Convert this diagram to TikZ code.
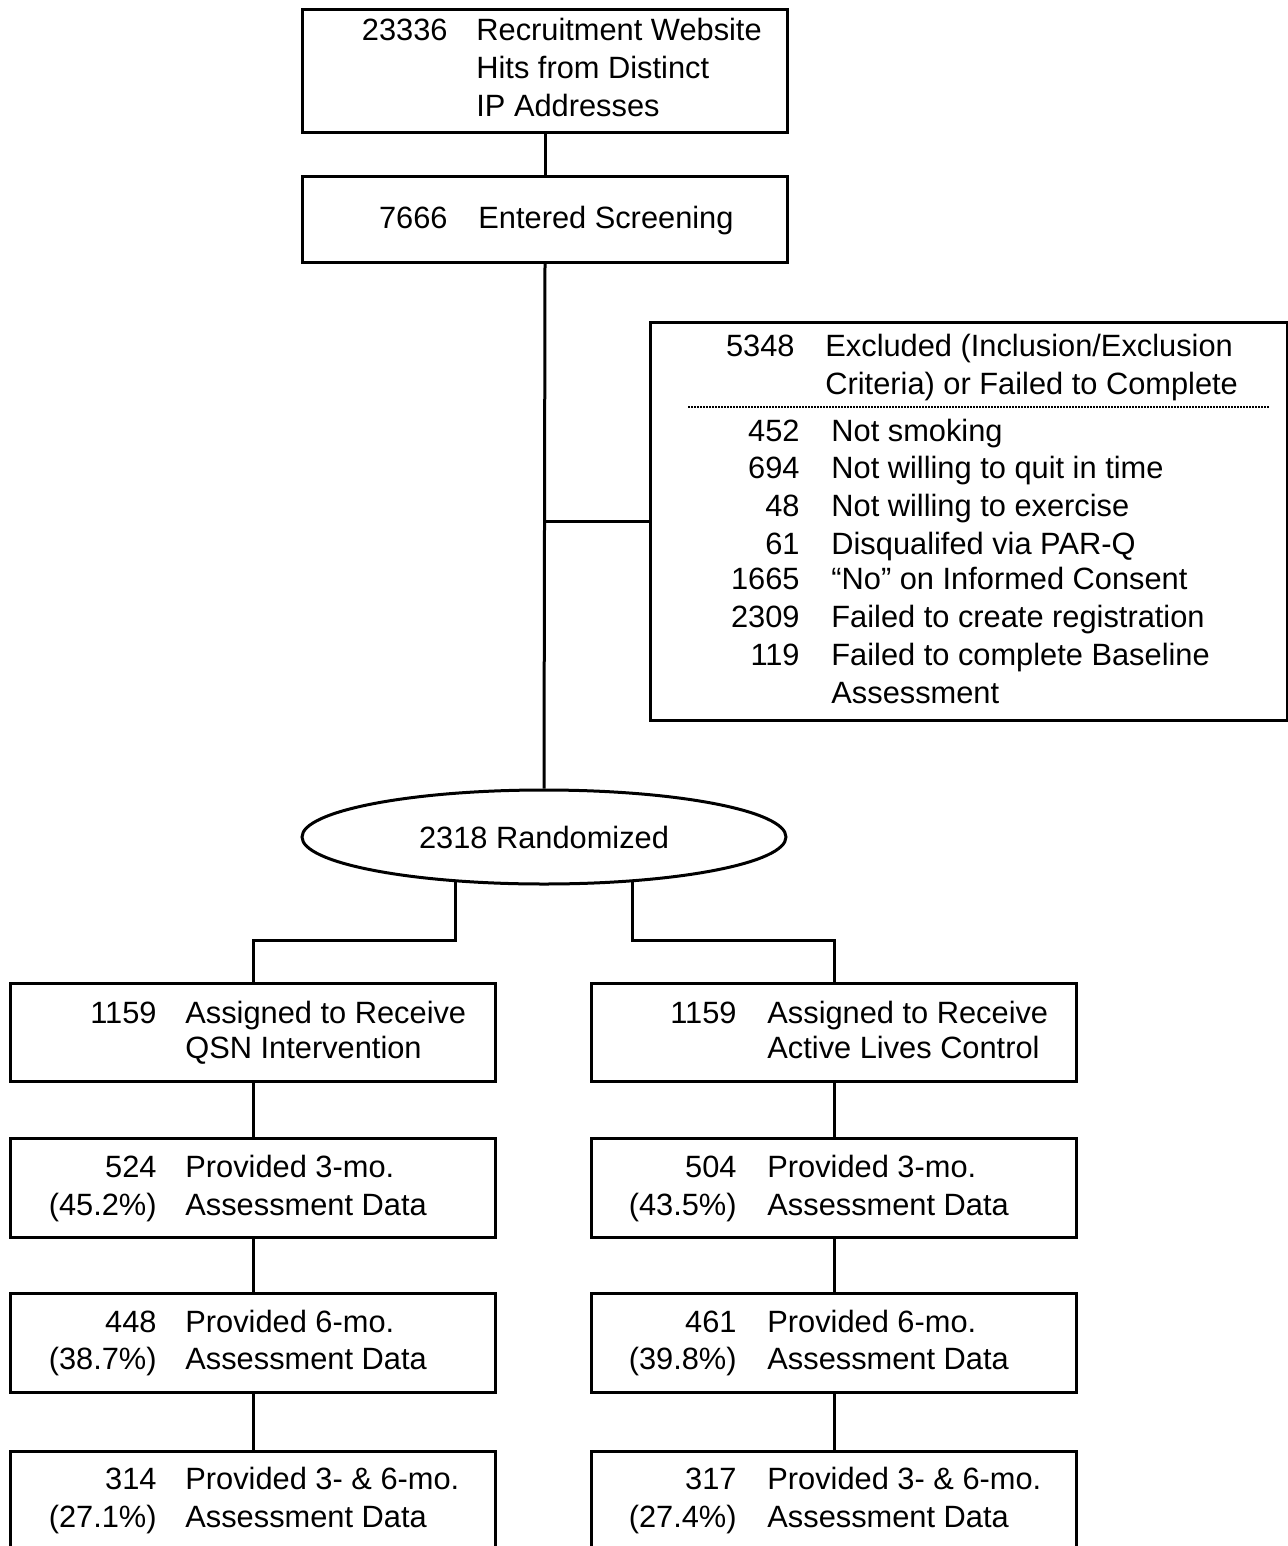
\documentclass[tikz,border=0pt]{standalone}
\usepackage{fontspec}
\setmainfont{Liberation Sans}
\usetikzlibrary{shapes.geometric}
\begin{document}
\begin{tikzpicture}[x=0.5pt,y=-0.5pt,
  every node/.style={font=\fontsize{15.4pt}{19pt}\selectfont},
  box/.style={draw,line width=1.5pt,minimum width=242.5pt,inner sep=0pt},
  num/.style={anchor=base east,inner sep=0pt},
  lbl/.style={anchor=base west,inner sep=0pt},
  conn/.style={line width=1.5pt},
  sep/.style={line width=0.9pt,dash pattern=on 1pt off 0.5pt}]
\useasboundingbox (0,0) rectangle (1288,1546);
\clip (0,0) rectangle (1288,1546);
% boxes
\node[box,minimum height=61.5pt] (hits) at (545,71.5) {};
\node[box,minimum height=42.5pt] (scr) at (545,219.5) {};
\node[box,minimum width=318.5pt,minimum height=199pt] (ex) at (968.5,521) {};
\node[draw,line width=1.5pt,ellipse,minimum width=242pt,minimum height=47pt,inner sep=0pt] (rand) at (544,837) {2318 Randomized};
\node[box,minimum height=49pt] (q1) at (253,1032) {};
\node[box,minimum height=49.5pt] (q2) at (253,1187.5) {};
\node[box,minimum height=49.5pt] (q3) at (253,1342.5) {};
\node[box,minimum height=49pt] (q4) at (253,1500) {};
\node[box,minimum height=49pt] (c1) at (834,1032) {};
\node[box,minimum height=49.5pt] (c2) at (834,1187.5) {};
\node[box,minimum height=49.5pt] (c3) at (834,1342.5) {};
\node[box,minimum height=49pt] (c4) at (834,1500) {};
% texts top
\node[num] (hn) at (448,41) {23336};
\node[lbl] (ht1) at (476,41) {Recruitment Website};
\node[lbl] (ht2) at (476,79) {Hits from Distinct};
\node[lbl] (ht3) at (476,117) {IP Addresses};
\node[num] (sn) at (448,228) {7666};
\node[lbl] (st) at (478,228) {Entered Screening};
% exclusion texts
\node[num] (en) at (795,356) {5348};
\node[lbl] (et1) at (825,356) {Excluded (Inclusion/Exclusion};
\node[lbl] (et2) at (825,394) {Criteria) or Failed to Complete};
\coordinate (dl) at (688,407);
\coordinate (dr) at (1270,407);
\draw[sep] (dl) -- (dr);
\node[num] (e1n) at (800,441) {452};
\node[lbl] (e1t) at (831,441) {Not smoking};
\node[num] (e2n) at (800,478) {694};
\node[lbl] (e2t) at (831,478) {Not willing to quit in time};
\node[num] (e3n) at (800,516) {48};
\node[lbl] (e3t) at (831,516) {Not willing to exercise};
\node[num] (e4n) at (800,554) {61};
\node[lbl] (e4t) at (831,554) {Disqualifed via PAR-Q};
\node[num] (e5n) at (800,589) {1665};
\node[lbl] (e5t) at (831,589) {“No” on Informed Consent};
\node[num] (e6n) at (800,627) {2309};
\node[lbl] (e6t) at (831,627) {Failed to create registration};
\node[num] (e7n) at (800,665) {119};
\node[lbl] (e7t) at (831,665) {Failed to complete Baseline};
\node[lbl] (e8t) at (831,703) {Assessment};
% left column texts
\node[num] (q1n) at (157,1023) {1159};
\node[lbl] (q1a) at (185,1023) {Assigned to Receive};
\node[lbl] (q1b) at (185,1058) {QSN Intervention};
\node[num] (q2n) at (157,1177) {524};
\node[num] (q2p) at (157,1215) {(45.2\%)};
\node[lbl] (q2a) at (185,1177) {Provided 3-mo.};
\node[lbl] (q2b) at (185,1215) {Assessment Data};
\node[num] (q3n) at (157,1332) {448};
\node[num] (q3p) at (157,1369) {(38.7\%)};
\node[lbl] (q3a) at (185,1332) {Provided 6-mo.};
\node[lbl] (q3b) at (185,1369) {Assessment Data};
\node[num] (q4n) at (157,1489) {314};
\node[num] (q4p) at (157,1527) {(27.1\%)};
\node[lbl] (q4a) at (185,1489) {Provided 3- \& 6-mo.};
\node[lbl] (q4b) at (185,1527) {Assessment Data};
% right column texts
\node[num] (c1n) at (737,1023) {1159};
\node[lbl] (c1a) at (767,1023) {Assigned to Receive};
\node[lbl] (c1b) at (767,1058) {Active Lives Control};
\node[num] (c2n) at (737,1177) {504};
\node[num] (c2p) at (737,1215) {(43.5\%)};
\node[lbl] (c2a) at (767,1177) {Provided 3-mo.};
\node[lbl] (c2b) at (767,1215) {Assessment Data};
\node[num] (c3n) at (737,1332) {461};
\node[num] (c3p) at (737,1369) {(39.8\%)};
\node[lbl] (c3a) at (767,1332) {Provided 6-mo.};
\node[lbl] (c3b) at (767,1369) {Assessment Data};
\node[num] (c4n) at (737,1489) {317};
\node[num] (c4p) at (737,1527) {(27.4\%)};
\node[lbl] (c4a) at (767,1489) {Provided 3- \& 6-mo.};
\node[lbl] (c4b) at (767,1527) {Assessment Data};
% connectors
\draw[conn] (hits) -- (scr);
\draw[conn] (scr.south) -- (rand.north);
\draw[conn] (scr.south |- ex.west) -- (ex.west);
\coordinate (lj) at (457,940);
\coordinate (rj) at (632,940);
\draw[conn] (rand.207.5) -- (rand.207.5 |- lj) -| (q1.north);
\draw[conn] (rand.333) -- (rand.333 |- rj) -| (c1.north);
\draw[conn] (q1) -- (q2);
\draw[conn] (q2) -- (q3);
\draw[conn] (q3) -- (q4);
\draw[conn] (c1) -- (c2);
\draw[conn] (c2) -- (c3);
\draw[conn] (c3) -- (c4);
\end{tikzpicture}
\end{document}
